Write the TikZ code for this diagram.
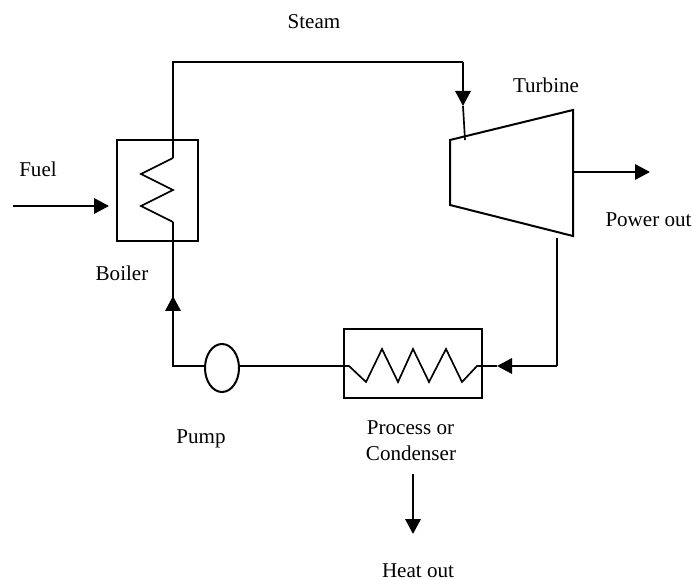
\documentclass[tikz,border=0pt]{standalone}
\usepackage{fontspec}
\setmainfont{Liberation Serif}
\usetikzlibrary{arrows.meta,shapes.geometric}
\tikzset{
  pipe/.style={black,line width=1.75pt},
  thinpipe/.style={black,line width=1.25pt},
  flow/.style={pipe,-{Triangle[length=11.25pt,width=11.5pt]}},
  unit/.style={draw,line width=1.5pt,inner sep=0pt,outer sep=0pt},
  lab/.style={font=\fontsize{15.8}{18}\selectfont,inner sep=0pt}
}
\begin{document}
\begin{tikzpicture}[x=0.75pt,y=-0.75pt]
\useasboundingbox (0,0) rectangle (692,580);
% units
\node[unit,minimum width=60.75pt,minimum height=75.75pt] (boiler) at (157.5,190.5) {};
\node[unit,minimum width=103.5pt,minimum height=51.75pt] (condenser) at (413,363.5) {};
\node[unit,ellipse,minimum width=25.5pt,minimum height=36pt] (pump) at (222,368) {};
\draw[unit] (450,140) -- (573,110) -- (573,236) -- (450,205) -- cycle;
% free ends
\coordinate (coilin) at (173,158);
\coordinate (coilout) at (173,222);
\coordinate (cornera) at (173,62);
\coordinate (cornerb) at (463,62);
\coordinate (steamend) at (463,106);
\coordinate (turbin) at (465,140);
\coordinate (shaft) at (573,172);
\coordinate (powerend) at (650,172);
\coordinate (exhaust) at (557,238);
\coordinate (cornerc) at (557,366);
\coordinate (retend) at (497,366);
\coordinate (condin) at (482,366);
\coordinate (condout) at (344,366);
\coordinate (cornerd) at (173,366);
\coordinate (feedend) at (173,296);
\coordinate (fuelstart) at (13,206);
\coordinate (fuelend) at (109,206);
\coordinate (heatstart) at (413,474);
\coordinate (heatend) at (413,534);
% coils
\draw[thinpipe] (coilin) -- (141,174) -- (173,190) -- (141,206) -- (coilout);
\draw[thinpipe] (condout) -- (349,366) -- (366,382) -- (382,349) -- (398,382) -- (413,349)
  -- (429,382) -- (446,349) -- (462,382) -- (477,366) -- (condin);
% loop
\draw[thinpipe] (coilin) -- (cornera) -- (cornerb);
\draw[flow] (cornerb) -- (steamend);
\draw[thinpipe] (steamend) -- (turbin);
\draw[flow] (shaft) -- (powerend);
\draw[thinpipe] (exhaust) -- (cornerc);
\draw[flow] (cornerc) -- (retend);
\draw[thinpipe] (retend) -- (condin);
\draw[thinpipe] (condout) -- (pump.east |- condout);
\draw[thinpipe] (pump.west |- cornerd) -- (cornerd) -- (feedend);
\draw[flow] (173,330) -- (feedend);
\draw[thinpipe] (feedend) -- (coilout);
% heat in and out
\draw[flow] (fuelstart) -- (fuelend);
\draw[flow] (heatstart) -- (heatend);
% labels
\node[lab] (steam) at (314,22) {Steam};
\node[lab] (fuel) at (38,169) {Fuel};
\node[lab] (turbine) at (546,85) {Turbine};
\node[lab] (power) at (648.5,220) {Power out};
\node[lab] (boilerlab) at (122,273) {Boiler};
\node[lab] (pumplab) at (201,439) {Pump};
\node[lab] (process) at (410.5,428) {Process or};
\node[lab] (condlab) at (411,453) {Condenser};
\node[lab] (heat) at (418,570.5) {Heat out};
\end{tikzpicture}
\end{document}
